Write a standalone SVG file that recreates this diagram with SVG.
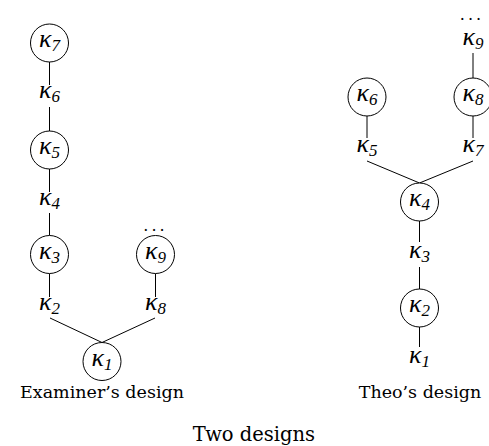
<svg xmlns="http://www.w3.org/2000/svg" width="489" height="446" viewBox="0 0 489 446">
<style>
.n{fill:#fff;stroke:#000;stroke-width:1}
.k{font-family:"Liberation Serif","DejaVu Serif",serif;font-style:italic;font-size:26px;fill:#000;text-anchor:middle}
.s{font-size:17px}
.c{font-family:"DejaVu Serif","Liberation Serif",serif;font-size:17.5px;fill:#000;text-anchor:middle}
.e{stroke:#000;stroke-width:1;fill:none}
.d{font-family:"DejaVu Serif",serif;font-size:16px;fill:#000;text-anchor:middle}
</style>
<rect width="489" height="446" fill="#fff"/>
<g id="connectors">
<path class="e" d="M49.5 62V85M49.5 107V131M49.5 169V192M49.5 213V235.5M49.5 273.5V297M155.5 273.5V297M50 318L102 342.5M155 318L102 342.5"/>
<path class="e" d="M473 53V78M367 116V138M473 116V138M367 161L419.5 183M473 161L419.5 183M419.5 221V242M419.5 267V289M419.5 327V347"/>
</g>
<g id="k7"><circle class="n" cx="49.5" cy="43" r="19"/><text class="k" x="49.5" y="47">κ<tspan class="s" dy="4">7</tspan></text></g>
<g id="k6"><text class="k" x="49.5" y="98">κ<tspan class="s" dy="4">6</tspan></text></g>
<g id="k5"><circle class="n" cx="49.5" cy="150" r="19"/><text class="k" x="49.5" y="154">κ<tspan class="s" dy="4">5</tspan></text></g>
<g id="k4"><text class="k" x="49.5" y="205">κ<tspan class="s" dy="4">4</tspan></text></g>
<g id="k3"><circle class="n" cx="49.5" cy="254.5" r="19"/><text class="k" x="49.5" y="258.5">κ<tspan class="s" dy="4">3</tspan></text></g>
<g id="k9"><text class="d" x="155.5" y="231" letter-spacing="3">...</text><circle class="n" cx="155.5" cy="254.5" r="19"/><text class="k" x="155.5" y="258.5">κ<tspan class="s" dy="4">9</tspan></text></g>
<g id="k2"><text class="k" x="49.5" y="310">κ<tspan class="s" dy="4">2</tspan></text></g>
<g id="k8"><text class="k" x="155.5" y="310">κ<tspan class="s" dy="4">8</tspan></text></g>
<g id="k1"><circle class="n" cx="102" cy="361.5" r="19"/><text class="k" x="102" y="365.5">κ<tspan class="s" dy="4">1</tspan></text></g>
<g id="t-k9"><text class="d" x="472" y="20" letter-spacing="3">...</text><text class="k" x="473" y="45">κ<tspan class="s" dy="4">9</tspan></text></g>
<g id="t-k6"><circle class="n" cx="367" cy="97" r="19"/><text class="k" x="367" y="101">κ<tspan class="s" dy="4">6</tspan></text></g>
<g id="t-k8"><circle class="n" cx="473" cy="97" r="19"/><text class="k" x="473" y="101">κ<tspan class="s" dy="4">8</tspan></text></g>
<g id="t-k5"><text class="k" x="367" y="152">κ<tspan class="s" dy="4">5</tspan></text></g>
<g id="t-k7"><text class="k" x="473" y="152">κ<tspan class="s" dy="4">7</tspan></text></g>
<g id="t-k4"><circle class="n" cx="419.5" cy="202" r="19"/><text class="k" x="419.5" y="206">κ<tspan class="s" dy="4">4</tspan></text></g>
<g id="t-k3"><text class="k" x="419.5" y="258">κ<tspan class="s" dy="4">3</tspan></text></g>
<g id="t-k2"><circle class="n" cx="419.5" cy="308" r="19"/><text class="k" x="419.5" y="312">κ<tspan class="s" dy="4">2</tspan></text></g>
<g id="t-k1"><text class="k" x="419.5" y="363">κ<tspan class="s" dy="4">1</tspan></text></g>
<text class="c" x="102" y="398">Examiner’s design</text>
<text class="c" x="420" y="398">Theo’s design</text>
<text class="c" x="254" y="441" style="font-size:19.5px">Two designs</text>
</svg>
